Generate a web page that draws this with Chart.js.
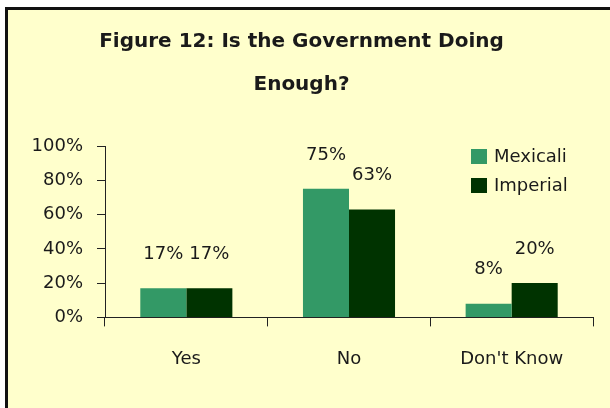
<!DOCTYPE html>
<html>
<head>
<meta charset="utf-8">
<script src="https://cdn.jsdelivr.net/npm/chart.js@4/dist/chart.umd.min.js"></script>
<style>
  html, body { margin: 0; padding: 0; background: #fff; }
  #wrap { position: relative; width: 610px; height: 408px; overflow: hidden; }
  #box {
    position: absolute; left: 5px; top: 7px; width: 640px; height: 440px;
    border: 3px solid #111; background: #ffffcc; box-sizing: border-box;
  }
  canvas { position: absolute; left: 0; top: 0; }
</style>
</head>
<body>
<div id="wrap">
  <div id="box"></div>
  <canvas id="chart" width="610" height="408"></canvas>
</div>
<script>
const categories = ['Yes', 'No', "Don't Know"];
const mexicali = [17, 75, 8];
const imperial = [17, 63, 20];
const yTicks = [0, 20, 40, 60, 80, 100];

const FONT = '"DejaVu Sans", sans-serif';
const INK = '#1a1a1a';
const AXIS = '#222';

// 數值標籤：畫在每根柱子上方
const barLabels = {
    id: 'barLabels',
    afterDatasetsDraw(chart) {
        const ctx = chart.ctx;
        ctx.save();
        ctx.font = `18px ${FONT}`;
        ctx.fillStyle = INK;
        ctx.textAlign = 'center';
        ctx.textBaseline = 'middle';
        chart.data.datasets.forEach((ds, i) => {
            chart.getDatasetMeta(i).data.forEach((bar, j) => {
                ctx.fillText(ds.data[j] + '%', bar.x, bar.y - 34);
            });
        });
        ctx.restore();
    }
};

// 圖例放在繪圖區內右上角
const innerLegend = {
    id: 'innerLegend',
    afterDraw(chart) {
        const ctx = chart.ctx;
        const area = chart.chartArea;
        const left = area.right - 122;
        let top = area.top + 3;
        ctx.save();
        ctx.font = `18px ${FONT}`;
        ctx.textAlign = 'left';
        ctx.textBaseline = 'middle';
        chart.data.datasets.forEach(ds => {
            ctx.fillStyle = ds.backgroundColor;
            ctx.fillRect(left, top, 16, 15);
            ctx.fillStyle = INK;
            ctx.fillText(ds.label, left + 23, top + 8);
            top += 29;
        });
        ctx.restore();
    }
};

new Chart(document.getElementById('chart'), {
    type: 'bar',
    data: {
        labels: categories,
        datasets: [
            { label: 'Mexicali', data: mexicali, backgroundColor: '#339966' },
            { label: 'Imperial', data: imperial, backgroundColor: '#003300' }
        ]
    },
    options: {
        responsive: false,
        animation: false,
        layout: { padding: { left: 10, right: 17, top: 0, bottom: 16 } },
        datasets: { bar: { categoryPercentage: 0.566, barPercentage: 1 } },
        plugins: {
            legend: { display: false },
            tooltip: { enabled: false },
            title: {
                display: true,
                text: ['Figure 12: Is the Government Doing', 'Enough?'],
                color: INK,
                font: { family: FONT, size: 20, weight: 'bold', lineHeight: 2.15 },
                padding: { top: 20, bottom: 40 }
            }
        },
        scales: {
            x: {
                grid: { display: true, drawOnChartArea: false, drawTicks: true, tickLength: 9, color: AXIS, offset: true },
                border: { color: AXIS, width: 1 },
                ticks: { color: INK, font: { family: FONT, size: 18 }, padding: 22 }
            },
            y: {
                min: 0,
                max: 100,
                afterBuildTicks: scale => { scale.ticks = yTicks.map(v => ({ value: v })); },
                afterFit: scale => { scale.width = 95; },
                grid: { display: true, drawOnChartArea: false, drawTicks: true, tickLength: 8, color: AXIS },
                border: { color: AXIS, width: 1 },
                ticks: { color: INK, font: { family: FONT, size: 18 }, padding: 14, callback: v => v + '%' }
            }
        }
    },
    plugins: [barLabels, innerLegend]
});
</script>
</body>
</html>
